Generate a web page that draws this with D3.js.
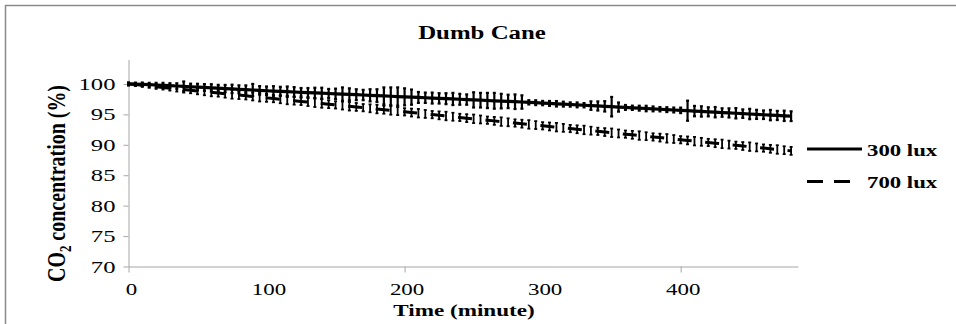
<!DOCTYPE html>
<html>
<head>
<meta charset="utf-8">
<script src="https://cdn.jsdelivr.net/npm/d3@7"></script>
<style>
  html, body { margin: 0; padding: 0; background: #fff; }
  svg { display: block; }
  svg text { font-family: "Liberation Serif", "Times New Roman", "DejaVu Serif", serif; fill: #000; }
</style>
</head>
<body>
<svg id="chart" width="956" height="324"></svg>
<script>
// minutes, one reading every 5 minutes
const times = [
  0, 5, 10, 15, 20, 25, 30, 35, 40, 45, 50, 55, 60, 65, 70, 75, 80, 85, 90, 95,
  100, 105, 110, 115, 120, 125, 130, 135, 140, 145, 150, 155, 160, 165, 170, 175, 180, 185, 190, 195,
  200, 205, 210, 215, 220, 225, 230, 235, 240, 245, 250, 255, 260, 265, 270, 275, 280, 285, 290, 295,
  300, 305, 310, 315, 320, 325, 330, 335, 340, 345, 350, 355, 360, 365, 370, 375, 380, 385, 390, 395,
  400, 405, 410, 415, 420, 425, 430, 435, 440, 445, 450, 455, 460, 465, 470, 475, 480
];

const lux300 = [
  100.00, 99.97, 99.93, 99.88, 99.83, 99.78, 99.72, 99.66, 99.60, 99.54, 99.48, 99.42, 99.36, 99.30, 99.24, 99.18, 99.12, 99.06, 99.00, 98.94,
  98.88, 98.83, 98.78, 98.73, 98.68, 98.63, 98.58, 98.53, 98.48, 98.43, 98.38, 98.33, 98.28, 98.23, 98.18, 98.13, 98.08, 98.03, 97.98, 97.93,
  97.88, 97.83, 97.78, 97.73, 97.68, 97.63, 97.58, 97.53, 97.48, 97.43, 97.38, 97.33, 97.28, 97.23, 97.18, 97.13, 97.08, 97.03, 96.98, 96.92,
  96.86, 96.80, 96.74, 96.68, 96.62, 96.56, 96.50, 96.44, 96.38, 96.32, 96.26, 96.20, 96.14, 96.08, 96.02, 95.96, 95.90, 95.84, 95.78, 95.72,
  95.66, 95.60, 95.54, 95.48, 95.42, 95.36, 95.30, 95.24, 95.18, 95.12, 95.06, 95.00, 94.94, 94.88, 94.82, 94.76, 94.70
];
const lux300Err = [
  0.25, 0.25, 0.3, 0.3, 0.35, 0.4, 0.4, 0.45, 0.8, 0.5, 0.55, 0.55, 0.6, 0.55, 0.6, 0.7, 0.65, 0.7, 1.0, 0.7,
  0.7, 0.8, 0.75, 0.85, 0.8, 0.7, 0.75, 0.85, 0.9, 0.75, 0.85, 1.1, 1.0, 0.9, 0.85, 1.0, 1.05, 1.4, 1.45, 1.5,
  1.4, 1.25, 0.9, 0.85, 0.9, 0.85, 0.9, 1.0, 0.9, 0.85, 1.25, 1.2, 1.25, 1.3, 1.2, 1.1, 1.2, 1.1, 0.35, 0.4,
  0.35, 0.4, 0.45, 0.4, 0.35, 0.4, 0.35, 0.7, 0.75, 0.85, 1.6, 0.75, 0.4, 0.35, 0.4, 0.45, 0.4, 0.35, 0.4, 0.4,
  0.45, 1.65, 0.85, 0.85, 0.75, 0.85, 0.7, 0.75, 0.85, 0.7, 0.85, 0.75, 0.7, 0.85, 0.75, 0.85, 0.8
];

const lux700 = [
  100.00, 99.89, 99.77, 99.66, 99.54, 99.43, 99.31, 99.20, 99.08, 98.97, 98.85, 98.74, 98.62, 98.51, 98.40, 98.28, 98.17, 98.05, 97.94, 97.82,
  97.71, 97.59, 97.48, 97.36, 97.25, 97.13, 97.02, 96.91, 96.79, 96.68, 96.56, 96.45, 96.33, 96.22, 96.10, 95.99, 95.87, 95.76, 95.65, 95.53,
  95.42, 95.30, 95.19, 95.07, 94.96, 94.84, 94.73, 94.61, 94.50, 94.38, 94.27, 94.16, 94.04, 93.93, 93.81, 93.70, 93.58, 93.47, 93.35, 93.24,
  93.12, 93.01, 92.90, 92.78, 92.67, 92.55, 92.44, 92.32, 92.21, 92.09, 91.98, 91.86, 91.75, 91.64, 91.52, 91.41, 91.29, 91.18, 91.06, 90.95,
  90.83, 90.72, 90.60, 90.49, 90.38, 90.26, 90.15, 90.03, 89.92, 89.80, 89.69, 89.57, 89.46, 89.34, 89.23, 89.11, 89.00
];
const lux700Err = [
  0.2, 0.25, 0.25, 0.3, 0.35, 0.35, 0.4, 0.45, 0.5, 0.5, 0.55, 0.6, 0.65, 0.6, 0.65, 0.7, 0.65, 0.6, 0.65, 0.7,
  0.65, 0.6, 0.65, 0.7, 0.65, 0.6, 0.65, 0.7, 0.7, 0.65, 0.6, 0.65, 0.7, 0.65, 0.6, 0.65, 0.7, 0.65, 0.7, 0.65,
  0.6, 0.65, 0.7, 0.65, 0.6, 0.65, 0.7, 0.65, 0.6, 0.65, 0.7, 0.65, 0.6, 0.65, 0.7, 0.65, 0.6, 0.65, 0.7, 0.65,
  0.6, 0.65, 0.7, 0.65, 0.6, 0.65, 0.7, 0.65, 0.6, 0.65, 0.7, 0.65, 0.6, 0.65, 0.7, 0.65, 0.6, 0.65, 0.7, 0.65,
  0.6, 0.65, 0.7, 0.65, 0.6, 0.65, 0.7, 0.65, 0.6, 0.65, 0.7, 0.65, 0.6, 0.65, 0.7, 0.65, 0.65
];

const yTicks = [70, 75, 80, 85, 90, 95, 100];
const xTicks = [0, 100, 200, 300, 400];
const xTickMarks = [0, 200, 400];
const seriesNames = ["300 lux", "700 lux"];

const svg = d3.select("#chart");

const x = d3.scaleLinear().domain([0, 485]).range([128.5, 798]);
const y = d3.scaleLinear().domain([70, 104]).range([266.5, 59.6]);

const axisColor = "#a6a6a6";
// the source picture is stretched sideways, so text is widened to match
const STRETCH = 1.4;

// places a text whose glyphs are widened by sx around its anchor
function stretchedText(parent, px, py, str, opts) {
  const g = parent.append("g")
    .attr("transform", "translate(" + px + "," + py + ") scale(" + (opts.sx || STRETCH) + ",1)");
  return g.append("text")
    .attr("text-anchor", opts.anchor || "start")
    .attr("font-size", opts.size)
    .attr("font-weight", opts.bold ? "bold" : "normal")
    .text(str);
}

// outer frame of the chart area
svg.append("rect")
  .attr("x", 5.5).attr("y", 5.5)
  .attr("width", 960).attr("height", 340)
  .attr("fill", "none")
  .attr("stroke", "#8a8a8a")
  .attr("stroke-width", 1.5);

// title
stretchedText(svg, 482, 39, "Dumb Cane", { size: 18, bold: true, anchor: "middle", sx: 1.38 });

// y axis
const yAxisG = svg.append("g")
  .attr("transform", "translate(" + x(0) + ",0)")
  .call(d3.axisLeft(y).tickValues(yTicks).tickSize(5).tickSizeOuter(0).tickFormat(""));
yAxisG.selectAll("path, line").attr("stroke", axisColor);
const yLabels = svg.append("g");
yTicks.forEach(v => {
  stretchedText(yLabels, 115.5, y(v) + 6, String(v), { size: 17, anchor: "end", sx: 1.45 });
});

// x axis: labels every 100, tick marks every 200
const xAxisG = svg.append("g")
  .attr("transform", "translate(0," + y(70) + ")")
  .call(d3.axisBottom(x).tickValues(xTickMarks).tickSize(6).tickSizeOuter(0).tickFormat(""));
xAxisG.selectAll("path, line").attr("stroke", axisColor);
const xLabels = svg.append("g");
xTicks.forEach(v => {
  stretchedText(xLabels, x(v) + (v === 0 ? 3 : 2.5), 295, String(v), { size: 17, anchor: "middle", sx: 1.35 });
});

// axis titles
stretchedText(svg, 464, 316, "Time (minute)", { size: 17, bold: true, anchor: "middle", sx: 1.36 });

const yTitle = svg.append("g")
  .attr("transform", "translate(65,183.5) rotate(-90) scale(1," + STRETCH + ")")
  .append("text")
  .attr("text-anchor", "middle")
  .attr("font-size", 18.5).attr("font-weight", "bold")
  .attr("textLength", 197).attr("lengthAdjust", "spacingAndGlyphs");
yTitle.append("tspan").text("CO");
yTitle.append("tspan").attr("font-size", 12).attr("dy", 4).text("2");
yTitle.append("tspan").attr("dy", -4).text(" concentration (%)");

// series
const rows300 = times.map((t, i) => ({ t: t, v: lux300[i], e: lux300Err[i] }));
const rows700 = times.map((t, i) => ({ t: t, v: lux700[i], e: lux700Err[i] }));

const line = d3.line().x(d => x(d.t)).y(d => y(d.v));

function drawErrorBars(rows, width, cap) {
  const g = svg.append("g").attr("stroke", "#000").attr("stroke-width", width);
  g.selectAll("line.bar")
    .data(rows)
    .join("line")
    .attr("class", "bar")
    .attr("x1", d => x(d.t)).attr("x2", d => x(d.t))
    .attr("y1", d => y(d.v + d.e)).attr("y2", d => y(d.v - d.e));
  g.selectAll("line.cap-top")
    .data(rows)
    .join("line")
    .attr("class", "cap-top")
    .attr("x1", d => x(d.t) - cap).attr("x2", d => x(d.t) + cap)
    .attr("y1", d => y(d.v + d.e)).attr("y2", d => y(d.v + d.e));
  g.selectAll("line.cap-bottom")
    .data(rows)
    .join("line")
    .attr("class", "cap-bottom")
    .attr("x1", d => x(d.t) - cap).attr("x2", d => x(d.t) + cap)
    .attr("y1", d => y(d.v - d.e)).attr("y2", d => y(d.v - d.e));
}

drawErrorBars(rows700, 1.8, 1.5);
svg.append("path")
  .datum(rows700)
  .attr("fill", "none")
  .attr("stroke", "#000")
  .attr("stroke-width", 3)
  .attr("stroke-dasharray", "14,13.6")
  .attr("d", line);

drawErrorBars(rows300, 2.2, 1.5);
svg.append("path")
  .datum(rows300)
  .attr("fill", "none")
  .attr("stroke", "#000")
  .attr("stroke-width", 3.2)
  .attr("d", line);

// legend
const legendRows = svg.append("g").selectAll("g")
  .data(seriesNames)
  .join("g")
  .attr("transform", (d, i) => "translate(0," + (i === 0 ? 149 : 181.5) + ")");
legendRows.append("line")
  .attr("x1", 807).attr("x2", (d, i) => i === 0 ? 862 : 850)
  .attr("y1", 0).attr("y2", 0)
  .attr("stroke", "#000")
  .attr("stroke-width", 3.2)
  .attr("stroke-dasharray", (d, i) => i === 0 ? null : "16,11");
legendRows.each(function(d) {
  stretchedText(d3.select(this), 867, 6.5, d, { size: 17, bold: true, sx: 1.34 });
});
</script>
</body>
</html>
